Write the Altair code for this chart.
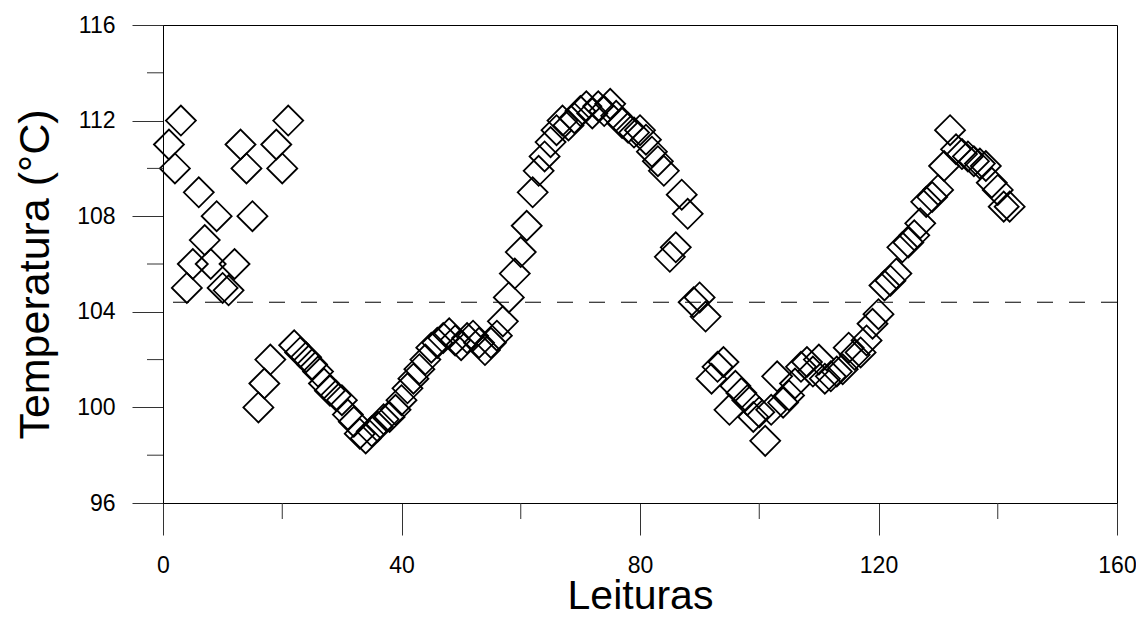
import altair as alt
import pandas as pd

readings = list(range(1, 143))
temps = [
    111.0, 110.0, 112.0, 105.0, 106.0, 109.0, 107.0, 106.0, 108.0, 105.0,
    104.9, 106.0, 111.0, 110.0, 108.0, 100.0, 101.0, 102.0, 111.0, 110.0,
    112.0, 102.6, 102.3, 102.1, 101.8, 101.5, 101.0, 100.7, 100.5, 100.3,
    99.7, 99.4, 98.9, 98.7, 99.0, 99.2, 99.5, 99.6, 99.9, 100.3,
    100.8, 101.2, 101.6, 102.0, 102.5, 102.7, 102.9, 103.1, 102.8, 102.6,
    102.9, 103.0, 102.7, 102.4, 102.7, 103.0, 103.6, 104.6, 105.6, 106.5,
    107.6, 109.0, 109.9, 110.5, 111.1, 111.6, 112.0, 111.8, 112.1, 112.4,
    112.6, 112.3, 112.6, 112.4, 112.7, 112.2, 111.9, 111.7, 111.5, 111.6,
    111.2, 110.7, 110.3, 109.9, 106.3, 106.7, 108.9, 108.1, 104.4, 104.6,
    103.8, 101.2, 101.7, 101.9, 99.9, 100.9, 100.6, 100.3, 99.6, 99.8,
    98.6, 99.9, 101.3, 100.2, 100.5, 101.0, 101.7, 101.9, 101.5, 102.0,
    101.2, 101.3, 101.5, 101.6, 102.5, 102.2, 102.3, 102.8, 103.5, 103.9,
    105.1, 105.3, 105.6, 106.7, 106.9, 107.2, 107.7, 108.6, 108.8, 109.1,
    110.1, 111.6, 110.8, 110.6, 110.5, 110.3, 110.2, 110.1, 109.4, 109.1,
    108.4, 108.4,
]
mean_value = [104.4]
x_major = [0, 40, 80, 120, 160]
x_minor = [20, 60, 100, 140]
y_major = [96, 100, 104, 108, 112, 116]
y_minor = [98, 102, 106, 110, 114]

W, H = 954, 478
FONT = "Liberation Sans"

df = pd.DataFrame({"Leitura": readings, "Temp": temps})
x_scale = alt.Scale(domain=[0, 160], nice=False, zero=False)
y_scale = alt.Scale(domain=[96, 116], nice=False, zero=False)

x_axis = alt.Axis(
    values=x_major, title="Leituras", tickSize=32, labelPadding=19,
    labelFontSize=23, titleFontSize=41, labelFont=FONT, titleFont=FONT,
    titleFontWeight="normal", grid=False, domainColor="black",
    tickColor="#333", labelColor="black", titleColor="black",
    titleX=W / 2, titleY=105, titleAlign="center",
    titleBaseline="alphabetic", labelFlush=False, labelOverlap=False)
y_axis = alt.Axis(
    values=y_major, title="Temperatura (°C)", tickSize=31,
    labelPadding=17, labelFontSize=23, titleFontSize=43,
    labelFont=FONT, titleFont=FONT, titleFontWeight="normal",
    grid=False, domainColor="black", tickColor="#333",
    labelColor="black", titleColor="black", titleX=-128, titleY=H / 2 + 10,
    titleAngle=-90, titleAlign="center", titleBaseline="middle",
    labelFlush=False, labelOverlap=False)

points = alt.Chart(df).mark_point(
    shape="diamond", size=900, filled=False, stroke="black",
    strokeWidth=1.8, opacity=1
).encode(
    x=alt.X("Leitura:Q", scale=x_scale, axis=x_axis),
    y=alt.Y("Temp:Q", scale=y_scale, axis=y_axis),
)

mean_rule = alt.Chart(pd.DataFrame({"Temp": mean_value})).mark_rule(
    stroke="black", strokeWidth=1, strokeDash=[16, 16]
).encode(y=alt.Y("Temp:Q", scale=y_scale, axis=y_axis))

xminor = alt.Chart(pd.DataFrame({"Leitura": x_minor})).mark_rule(
    stroke="#333", strokeWidth=1
).encode(
    x=alt.X("Leitura:Q", scale=x_scale, axis=x_axis),
    y=alt.value(H), y2=alt.value(H + 16),
)

yminor = alt.Chart(pd.DataFrame({"Temp": y_minor})).mark_rule(
    stroke="#333", strokeWidth=1
).encode(
    y=alt.Y("Temp:Q", scale=y_scale, axis=y_axis),
    x=alt.value(-16), x2=alt.value(0),
)

chart = alt.layer(points, mean_rule, xminor, yminor).properties(
    width=W, height=H,
    autosize=alt.AutoSizeParams(type="none"),
    padding={"left": 155, "top": 17, "right": 19, "bottom": 107},
    background="white",
).configure_view(stroke="black", strokeWidth=1)

chart.save("out.html", embed_options={"renderer": "svg", "actions": False})
